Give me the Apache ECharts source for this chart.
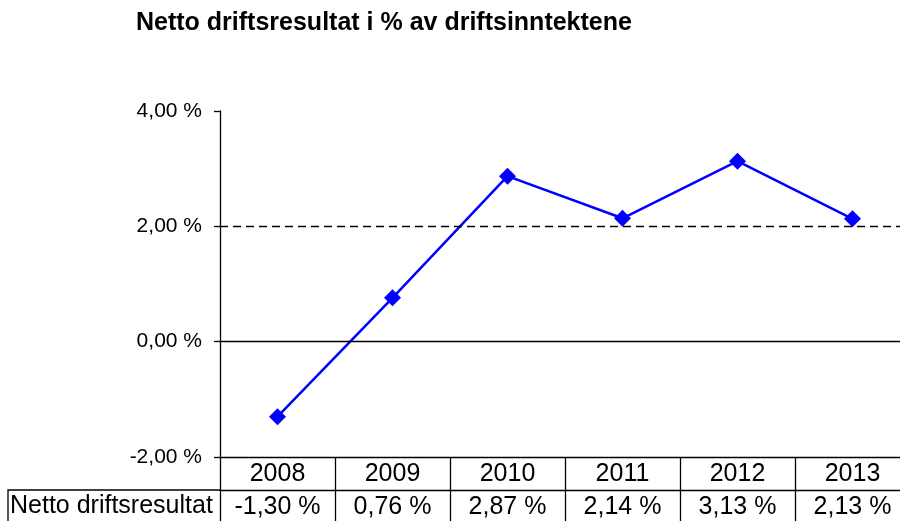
<!DOCTYPE html>
<html>
<head>
    <meta charset="utf-8">
    <title>Netto driftsresultat</title>
    <script src="https://cdn.jsdelivr.net/npm/echarts@6/dist/echarts.min.js"></script>
</head>
<body style="margin:0">
<div id="main" style="width: 900px;height:521px;"></div>
<script>
    // data
    var years = ['2008', '2009', '2010', '2011', '2012', '2013'];
    var values = [-1.30, 0.76, 2.87, 2.14, 3.13, 2.13];
    var rowLabel = 'Netto driftsresultat';
    var titleText = 'Netto driftsresultat i % av driftsinntektene';

    function pct(v) {
        return v.toFixed(2).replace('.', ',') + ' %';
    }

    var font = 'Liberation Sans, Arial, sans-serif';
    var myChart = echarts.init(document.getElementById('main'));

    var option = {
        animation: false,
        title: {
            text: titleText,
            left: 131,
            top: 6,
            textStyle: { fontFamily: font, fontSize: 25, fontWeight: 'bold', color: '#000' }
        },
        grid: { left: 220, width: 690, top: 111, bottom: 64, outerBoundsMode: 'none', containLabel: false },
        xAxis: [{
            type: 'category',
            data: years,
            position: 'bottom',
            boundaryGap: true,
            axisLine: { onZero: false, lineStyle: { color: '#000', width: 1.3 } },
            axisTick: { show: true, length: 66, interval: 0, lineStyle: { color: '#000', width: 1.3 } },
            axisLabel: { margin: 5, interval: 0, fontFamily: font, fontSize: 25, color: '#000' }
        }, {
            type: 'category',
            data: years,
            position: 'bottom',
            offset: 33,
            boundaryGap: true,
            axisLine: { show: true, onZero: false, lineStyle: { color: '#000', width: 1.3 } },
            axisTick: { show: false },
            axisLabel: {
                margin: 5, interval: 0, fontFamily: font, fontSize: 25, color: '#000',
                formatter: function (v, i) { return pct(values[i]); }
            }
        }],
        yAxis: {
            type: 'value',
            min: -2,
            max: 4,
            interval: 2,
            axisLine: { show: true, lineStyle: { color: '#000', width: 1.3 } },
            axisTick: { show: true, length: 6, lineStyle: { color: '#000', width: 1.3 } },
            splitLine: { show: false },
            axisLabel: {
                margin: 18, fontFamily: font, fontSize: 21, color: '#000',
                formatter: function (v) { return pct(v); }
            }
        },
        series: [{
            type: 'line',
            data: values,
            xAxisIndex: 0,
            symbol: 'diamond',
            symbolSize: 17,
            itemStyle: { color: '#0000ff' },
            lineStyle: { color: '#0000ff', width: 2.5 },
            markLine: {
                silent: true,
                symbol: 'none',
                label: { show: false },
                data: [
                    { yAxis: 0, lineStyle: { color: '#000', width: 1.3, type: 'solid' } },
                    { yAxis: 2, lineStyle: { color: '#000', width: 1.3, type: [8, 5] } }
                ]
            }
        }],
        graphic: [{
            type: 'polyline',
            shape: { points: [[220, 490], [8, 490], [8, 530]] },
            style: { stroke: '#000', lineWidth: 1.3, fill: null }
        }, {
            type: 'text',
            left: 10,
            top: 494,
            style: { text: rowLabel, font: '25px ' + font, fill: '#000' }
        }]
    };
    myChart.setOption(option);
</script>
</body>
</html>
